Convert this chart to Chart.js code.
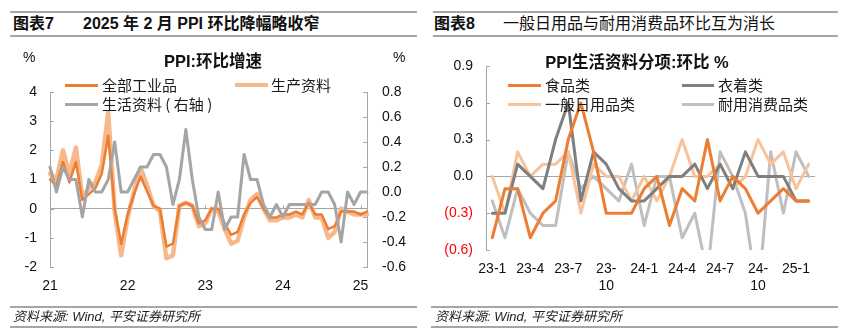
<!DOCTYPE html>
<html><head><meta charset="utf-8">
<script src="https://cdn.jsdelivr.net/npm/chart.js@4.4.0/dist/chart.umd.min.js"></script>
<style>
body{margin:0;width:853px;height:336px;background:#fff;position:relative;overflow:hidden;font-family:"Liberation Sans",Arial,"Noto Sans CJK SC",sans-serif;color:#111;}
.t{position:absolute;white-space:nowrap;}
.hl{position:absolute;height:2px;background:#a6a6a6;}
.lg{position:absolute;height:3px;}
.lt{position:absolute;white-space:nowrap;font-size:15px;line-height:18px;font-family:"Noto Sans CJK SC","Liberation Sans",sans-serif;color:#1a1a1a;}
canvas{position:absolute;top:0;}
</style></head><body>
<div class="hl" style="left:10px;top:11px;width:407px"></div>
<div class="t" style="left:13px;top:15px;font-size:16px;line-height:18px;font-weight:bold">图表7</div>
<div class="t" style="left:83px;top:15px;font-size:16px;line-height:18px;font-weight:bold">2025 年 2 月 PPI 环比降幅略收窄</div>
<div class="hl" style="left:10px;top:35px;width:407px"></div>
<div class="hl" style="left:433px;top:11px;width:405px"></div>
<div class="t" style="left:434px;top:15px;font-size:16px;line-height:18px;font-weight:bold">图表8</div>
<div class="t" style="left:503px;top:15px;font-size:16px;line-height:18px;">一般日用品与耐用消费品环比互为消长</div>
<div class="hl" style="left:433px;top:35px;width:405px"></div>

<canvas id="c1" width="425" height="336" style="left:0"></canvas>
<canvas id="c2" width="428" height="336" style="left:425px"></canvas>

<div class="t" style="left:113px;width:200px;text-align:center;top:51px;font-size:16.5px;line-height:20px;font-weight:bold">PPI:环比增速</div>
<div class="t" style="left:23px;top:49px;font-size:14px;line-height:16px">%</div>
<div class="t" style="left:393px;top:49px;font-size:14px;line-height:16px">%</div>
<div class="lg" style="left:65px;top:84px;width:33px;background:#ED7D31"></div>
<div class="lt" style="left:102px;top:76px;">全部工业品</div>
<div class="lg" style="left:235px;top:83px;width:33px;height:4px;background:#F7B98B"></div>
<div class="lt" style="left:271px;top:76px;">生产资料</div>
<div class="lg" style="left:65px;top:103px;width:33px;background:#A5A5A5"></div>
<div class="lt" style="left:102px;top:95px;">生活资料 ( 右轴 )</div>

<div class="t" style="left:537px;width:200px;text-align:center;top:52px;font-size:16.5px;line-height:20px;font-weight:bold">PPI生活资料分项:环比 %</div>
<div class="lg" style="left:508px;top:84px;width:33px;background:#ED7D31"></div>
<div class="lt" style="left:545px;top:76px;">食品类</div>
<div class="lg" style="left:682px;top:84px;width:32px;background:#7F7F7F"></div>
<div class="lt" style="left:718px;top:76px;">衣着类</div>
<div class="lg" style="left:508px;top:103px;width:33px;background:#F8C29A"></div>
<div class="lt" style="left:545px;top:95px;">一般日用品类</div>
<div class="lg" style="left:682px;top:103px;width:32px;background:#BFBFBF"></div>
<div class="lt" style="left:718px;top:95px;">耐用消费品类</div>

<div class="hl" style="left:10px;top:306px;width:407px"></div>
<div class="t" style="left:13px;top:309px;font-size:13px;line-height:16px;font-style:italic;color:#222">资料来源: Wind, 平安证券研究所</div>
<div class="hl" style="left:10px;top:326px;width:407px"></div>
<div class="hl" style="left:431px;top:306px;width:407px"></div>
<div class="t" style="left:435px;top:309px;font-size:13px;line-height:16px;font-style:italic;color:#222">资料来源: Wind, 平安证券研究所</div>
<div class="hl" style="left:431px;top:326px;width:407px"></div>

<script>
// ---- Chart 1 data: PPI month-on-month, %
const months1 = ['21-01','21-02','21-03','21-04','21-05','21-06','21-07','21-08','21-09','21-10','21-11','21-12',
 '22-01','22-02','22-03','22-04','22-05','22-06','22-07','22-08','22-09','22-10','22-11','22-12',
 '23-01','23-02','23-03','23-04','23-05','23-06','23-07','23-08','23-09','23-10','23-11','23-12',
 '24-01','24-02','24-03','24-04','24-05','24-06','24-07','24-08','24-09','24-10','24-11','24-12',
 '25-01','25-02'];
const ppiAll = [1.0,0.8,1.6,0.9,1.6,0.3,0.5,0.7,1.2,2.5,0.0,-1.2,
 -0.2,0.5,1.1,0.6,0.1,0.0,-1.3,-1.2,0.1,0.2,0.1,-0.5,
 -0.4,0.0,0.0,-0.5,-0.9,-0.8,-0.2,0.2,0.4,0.0,-0.3,-0.3,
 -0.2,-0.2,-0.1,-0.2,0.2,-0.2,-0.2,-0.7,-0.6,-0.1,-0.1,-0.1,
 -0.2,-0.1];
const ppiProducer = [1.2,1.0,2.0,1.2,2.1,0.4,0.7,0.9,1.5,3.3,-0.1,-1.6,
 -0.3,0.6,1.4,0.8,0.1,-0.1,-1.7,-1.6,0.1,0.2,0.1,-0.6,
 -0.5,0.0,-0.1,-0.7,-1.2,-1.1,-0.3,0.3,0.5,0.0,-0.4,-0.4,
 -0.3,-0.3,-0.2,-0.3,0.3,-0.3,-0.3,-1.0,-0.8,0.0,-0.1,-0.2,
 -0.2,-0.2];
const ppiConsumer = [0.2,0.0,0.2,0.1,0.1,-0.2,0.1,0.0,0.0,0.1,0.4,0.0,
 0.0,0.1,0.2,0.2,0.3,0.3,0.2,-0.1,0.1,0.5,0.1,-0.2,
 -0.3,-0.3,0.0,-0.3,-0.2,-0.2,0.3,0.1,0.1,-0.1,-0.2,-0.1,
 -0.2,-0.1,-0.1,-0.1,-0.1,-0.1,0.0,0.0,-0.1,-0.4,0.0,-0.1,
 0.0,0.0];
const leftTicks = {min:-2, max:4, step:1};
const rightTicks = {min:-0.6, max:0.8, step:0.2};

// ---- Chart 2 data: consumer goods sub-items, %
const months2 = ['23-1','23-2','23-3','23-4','23-5','23-6','23-7','23-8','23-9','23-10','23-11','23-12',
 '24-1','24-2','24-3','24-4','24-5','24-6','24-7','24-8','24-9','24-10','24-11','24-12','25-1','25-2'];
const food     = [-0.5,-0.1,-0.1,-0.5,-0.3,-0.2,0.3,0.6,0.2,-0.3,-0.3,-0.3,
 -0.1,0.0,-0.4,-0.1,-0.2,0.3,-0.2,0.0,-0.1,-0.3,-0.2,-0.1,-0.2,-0.2];
const clothing = [-0.3,-0.3,0.1,0.0,-0.1,0.3,0.6,-0.2,0.2,0.1,-0.1,-0.2,
 -0.2,-0.1,0.0,0.0,0.1,-0.1,0.1,-0.1,0.2,0.0,0.0,0.0,-0.2,-0.2];
const dailyUse = [0.0,-0.3,0.2,0.0,0.1,0.1,0.2,-0.3,0.1,0.0,0.0,-0.2,
 0.0,-0.2,0.0,0.3,0.0,0.0,0.1,-0.1,0.0,0.3,0.1,0.2,-0.1,0.1];
const durables = [-0.2,-0.5,-0.1,-0.3,-0.4,-0.4,0.2,-0.1,0.0,-0.1,-0.2,0.1,
 -0.4,0.0,0.0,-0.5,-0.3,-0.8,0.2,0.0,-0.3,-1.0,0.2,-0.3,0.2,0.0];
const ticks2 = {min:-0.6, max:0.9, step:0.3};

const AX = '#A6A6A6';
const FONT = {family:'"Liberation Sans", Arial, sans-serif', size:14};

const innerTicks = {
  id:'innerTicks',
  afterDraw(chart, args, opts){
    const ctx = chart.ctx; ctx.save(); ctx.strokeStyle = AX; ctx.lineWidth = 1;
    (opts.axes||[]).forEach(a=>{
      const s = chart.scales[a.id];
      s.ticks.forEach(t=>{
        const y = Math.round(s.getPixelForValue(t.value))+0.5;
        const x = a.side==='left' ? s.right : s.left;
        ctx.beginPath(); ctx.moveTo(x,y); ctx.lineTo(x+(a.side==='left'?4:-4),y); ctx.stroke();
      });
    });
    if (opts.xMarks){
      const xs = chart.scales.x, ys = chart.scales[opts.xMarks.yId];
      const y0 = Math.round(ys.getPixelForValue(0))+0.5;
      xs.ticks.forEach((t,i)=>{
        if (opts.xMarks.test(chart.data.labels[i], i)){
          const x = Math.round(xs.getPixelForValue(i))+0.5;
          ctx.beginPath(); ctx.moveTo(x,y0); ctx.lineTo(x,y0-4); ctx.stroke();
        }
      });
    }
    ctx.restore();
  }
};

function fix(w,h){ return s=>{ if(w!==undefined) s.width=w; if(h!==undefined) s.height=h; }; }
const lineBase = {pointRadius:0, tension:0, borderJoinStyle:'round', borderCapStyle:'round', clip:{left:5,right:5,top:5,bottom:0}};

new Chart(document.getElementById('c1'), {
  type:'line',
  data:{labels:months1, datasets:[
    Object.assign({label:'全部工业品', data:ppiAll, borderColor:'#ED7D31', borderWidth:2.5, yAxisID:'y', order:1}, lineBase),
    Object.assign({label:'生产资料', data:ppiProducer, borderColor:'#F7B98B', borderWidth:4.5, yAxisID:'y', order:2}, lineBase),
    Object.assign({label:'生活资料（右轴）', data:ppiConsumer, borderColor:'#A5A5A5', borderWidth:3, yAxisID:'y1', order:0}, lineBase)
  ]},
  options:{
    responsive:false, animation:false, devicePixelRatio:1,
    layout:{padding:{top:92,left:0,right:0,bottom:0}},
    plugins:{legend:{display:false}, tooltip:{enabled:false},
      innerTicks:{axes:[{id:'y',side:'left'},{id:'y1',side:'right'}],
        xMarks:{yId:'y', test:(l,i)=>i>0 && l.endsWith('-01')}}},
    scales:{
      x:{offset:false, grid:{display:false, drawTicks:false}, border:{display:false},
         afterFit:fix(undefined,69),
         ticks:{autoSkip:false, maxRotation:0, minRotation:0, padding:11, color:'#111', font:FONT,
           callback:function(v,i){ const l=months1[i]; return l.endsWith('-01') ? l.slice(0,2) : ''; }}},
      y:{position:'left', min:leftTicks.min, max:leftTicks.max, afterFit:fix(50),
         grid:{drawTicks:false, color:c=>c.tick.value===0?AX:'transparent', lineWidth:1},
         border:{display:true, color:AX},
         ticks:{stepSize:leftTicks.step, padding:13, color:'#111', font:FONT}},
      y1:{position:'right', min:rightTicks.min, max:rightTicks.max, afterFit:fix(58),
         grid:{drawOnChartArea:false, drawTicks:false},
         border:{display:true, color:AX},
         ticks:{stepSize:rightTicks.step, padding:15, color:'#111', font:FONT,
           callback:v=>(Math.abs(v)<1e-9?0:v).toFixed(1)}}
    }
  },
  plugins:[innerTicks]
});

new Chart(document.getElementById('c2'), {
  type:'line',
  data:{labels:months2, datasets:[
    Object.assign({label:'食品类', data:food, borderColor:'#ED7D31', borderWidth:3}, lineBase),
    Object.assign({label:'衣着类', data:clothing, borderColor:'#7F7F7F', borderWidth:3}, lineBase),
    Object.assign({label:'一般日用品类', data:dailyUse, borderColor:'#F8C29A', borderWidth:3}, lineBase),
    Object.assign({label:'耐用消费品类', data:durables, borderColor:'#BFBFBF', borderWidth:3}, lineBase)
  ]},
  options:{
    responsive:false, animation:false, devicePixelRatio:1,
    layout:{padding:{top:66,left:0,right:38,bottom:0}},
    plugins:{legend:{display:false}, tooltip:{enabled:false},
      innerTicks:{axes:[{id:'y',side:'left'}]}},
    scales:{
      x:{offset:true, grid:{display:false, drawTicks:false}, border:{display:false},
         afterFit:fix(undefined,86),
         ticks:{autoSkip:false, maxRotation:0, minRotation:0, padding:11, color:'#111', font:FONT,
           callback:function(v,i){ if(i%3!==0) return ''; const l=months2[i];
             return l.endsWith('-10') ? [l.slice(0,3), '10'] : l; }}},
      y:{min:ticks2.min, max:ticks2.max, afterFit:fix(61),
         grid:{drawTicks:false, color:c=>Math.abs(c.tick.value)<1e-9?AX:'transparent', lineWidth:1},
         border:{display:true, color:AX},
         ticks:{stepSize:ticks2.step, padding:13, font:FONT,
           color:c=>c.tick.value<-1e-9?'#FF0000':'#111',
           callback:v=>{ if(Math.abs(v)<1e-9) return '0.0'; return v<0 ? '('+Math.abs(v).toFixed(1)+')' : v.toFixed(1); }}}
    }
  },
  plugins:[innerTicks]
});
</script>
</body></html>
